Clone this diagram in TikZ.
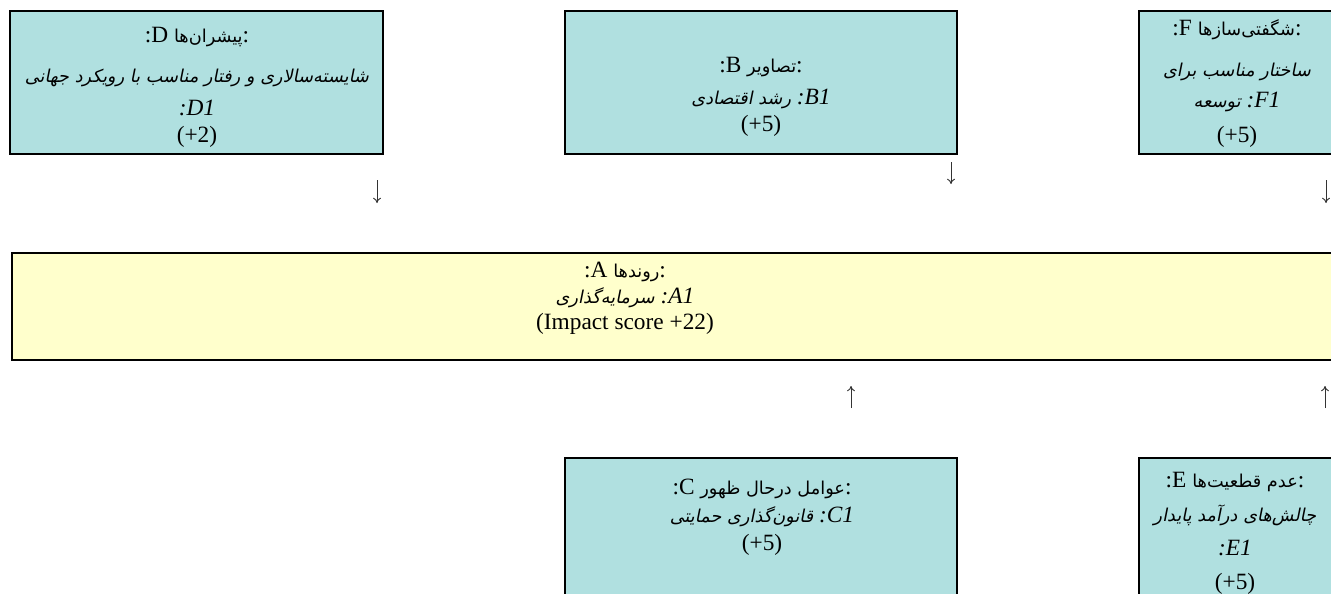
\documentclass[tikz,border=0pt]{standalone}
\usepackage{fontspec}
\usetikzlibrary{arrows.meta}
\setmainfont{Liberation Serif}
\newfontfamily\fafont[Script=Arabic,Scale=0.76]{DejaVu Sans}
\newfontfamily\fafontit[Script=Arabic,Scale=0.76,FakeSlant=0.2]{DejaVu Sans}
\TeXXeTstate=1
\newcommand{\fa}[1]{{\fafont\beginR #1\endR}}
\newcommand{\fai}[1]{{\fafontit\beginR #1\endR}}
\definecolor{Factor}{RGB}{176,224,224}
\definecolor{Trend}{RGB}{255,255,204}
\definecolor{Tip}{RGB}{51,51,51}

\begin{document}
\begin{tikzpicture}[x=0.75pt,y=-0.75pt]
			\tikzstyle{box}=[draw, line width=1.5pt, shape=rectangle, inner sep=0pt, outer sep=0pt];
			\tikzstyle{label}=[align=center, inner sep=0pt];
			\tikzstyle{flow}=[draw=Tip, line width=0.7pt, -{To[length=4pt,width=6pt]}];
			\path[use as bounding box] (0,0) rectangle (1331,593);
			\clip (0,0) rectangle (1331,593);
			% top row
			\node [box, fill=Factor, minimum width=279.75pt, minimum height=107.25pt] (D) at (196.5, 82.5) {};
			\node [box, fill=Factor, minimum width=294pt, minimum height=107.25pt] (B) at (761, 82.5) {};
			\node [box, fill=Factor, minimum width=147pt, minimum height=107.25pt] (F) at (1237, 82.5) {};
			% middle
			\node [box, fill=Trend, minimum width=996pt, minimum height=80.25pt] (A) at (676, 306.5) {};
			% bottom row
			\node [box, fill=Factor, minimum width=294pt, minimum height=108pt] (C) at (761, 530) {};
			\node [box, fill=Factor, minimum width=147pt, minimum height=108pt] (E) at (1237, 530) {};
			% texts
			\node [label, font=\fontsize{17.5}{25}\selectfont] (Dtxt) at (197, 87.5) {:D \fa{پیشران‌ها}:\\[5pt] \fai{شایسته‌سالاری و رفتار مناسب با رویکرد جهانی}\\ \textit{:D1}\\[-4.5pt] (+2)};
			\node [label, font=\fontsize{17.5}{22}\selectfont] (Btxt) at (761, 97) {:B \fa{تصاویر}:\\[2pt] \fai{رشد اقتصادی} \textit{:B1}\\[-2pt] (+5)};
			\node [label, font=\fontsize{17.5}{26}\selectfont] (Ftxt) at (1237, 83.5) {:F \fa{شگفتی‌سازها}:\\[4.5pt] \fai{ساختار مناسب برای}\\[-2.25pt] \fai{توسعه} \textit{:F1}\\ (+5)};
			\node [label, font=\fontsize{17.5}{19.5}\selectfont] (Atxt) at (625, 298) {:A \fa{روندها}:\\ \fai{سرمایه‌گذاری} \textit{:A1}\\ (Impact score +22)};
			\node [label, font=\fontsize{17.5}{21}\selectfont] (Ctxt) at (762, 517) {:C \fa{عوامل درحال ظهور}:\\ \fai{قانون‌گذاری حمایتی} \textit{:C1}\\ (+5)};
			\node [label, font=\fontsize{17.5}{25.5}\selectfont] (Etxt) at (1235, 533) {:E \fa{عدم قطعیت‌ها}:\\ \fai{چالش‌های درآمد پایدار}\\ \textit{:E1}\\ (+5)};
			% arrows
			\coordinate (dD) at (377, 180);
			\coordinate (dDend) at (377, 203);
			\coordinate (dB) at (951, 162);
			\coordinate (dBend) at (951, 184);
			\coordinate (dF) at (1326, 180);
			\coordinate (dFend) at (1326, 203);
			\coordinate (uC) at (851, 408);
			\coordinate (uCend) at (851, 386);
			\coordinate (uE) at (1325, 408);
			\coordinate (uEend) at (1325, 386);
			\draw [flow] (dD) -- (dDend);
			\draw [flow] (dB) -- (dBend);
			\draw [flow] (dF) -- (dFend);
			\draw [flow] (uC) -- (uCend);
			\draw [flow] (uE) -- (uEend);
		\end{tikzpicture}
\end{document}
